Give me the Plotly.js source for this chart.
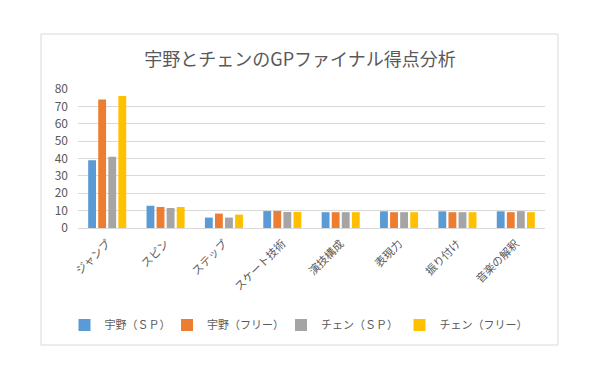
<!DOCTYPE html>
<html><head><meta charset="utf-8">
<script src="https://cdn.plot.ly/plotly-3.0.1.min.js"></script>
<style>html,body{margin:0;padding:0;background:#fff}#chart{width:600px;height:380px}</style>
</head><body><div id="chart"></div>
<script>
const categories = ["ジャンプ","スピン","ステップ","スケート技術","演技構成","表現力","振り付け","音楽の解釈"];
const unoSP   = [39, 12.8, 6.0, 9.75, 9.1, 9.6, 9.6, 9.6];
const unoFree = [74, 12.1, 8.3, 9.8, 9.1, 9.1, 9.1, 9.1];
const chenSP  = [41, 11.5, 6.0, 9.2, 9.1, 9.1, 9.1, 9.7];
const chenFree= [76, 12.1, 7.7, 9.25, 9.1, 9.1, 9.1, 9.1];
const seriesNames = ["宇野（ＳＰ）","宇野（フリー）","チェン（ＳＰ）","チェン（フリー）"];
const colors = ["#5B9BD5","#ED7D31","#A5A5A5","#FFC000"];
const yTicks = [0,10,20,30,40,50,60,70,80];

const font = "'Noto Sans CJK JP', 'Noto Sans', sans-serif";
const legendIds = ['legend','legend2','legend3','legend4'];
const legendCenters = [120, 228, 342, 466];
const data = [unoSP, unoFree, chenSP, chenFree].map((v,i)=>({
  type:'bar', x:categories, y:v, name:seriesNames[i],
  marker:{color:colors[i]}, hoverinfo:'skip', legend:legendIds[i]
}));
const L=78,R=55,T=89,B=152, W=600-L-R, H=380-T-B;
const layout = {
  width:600, height:380,
  margin:{l:L,r:R,t:T,b:B,pad:0},
  paper_bgcolor:'#fff', plot_bgcolor:'#fff',
  font:{family:font, color:'#595959'},
  title:{text:"宇野とチェンのGPファイナル得点分析", x:0.5, xanchor:'center', y:1-60/380, yanchor:'middle',
         font:{size:18, color:'#595959', family:font}},
  barmode:'group', bargap:0.31, bargroupgap:0.22,
  xaxis:{type:'category', tickangle:-45, showgrid:false, showline:true, linecolor:'#D9D9D9', linewidth:1,
         ticks:'', tickfont:{size:11, color:'#595959'}, ticklabelstandoff:4, fixedrange:true},
  yaxis:{range:[0,80], tickvals:yTicks, ticktext:yTicks.map(String), showgrid:true, gridcolor:'#D9D9D9',
         zeroline:false, showline:false, ticks:'', ticklen:0, ticklabelstandoff:9,
         tickfont:{size:12, color:'#595959'}, fixedrange:true},
  shapes:[{type:'rect', xref:'paper', yref:'paper',
           x0:(41-L)/W, x1:(558-L)/W, y0:(T+H-345)/H, y1:(T+H-34)/H,
           line:{color:'#D9D9D9', width:1}, fillcolor:'rgba(0,0,0,0)', layer:'below'}],
  showlegend:true
};
legendIds.forEach((id,i)=>{
  layout[id] = {orientation:'h', xref:'container', yref:'container', x:legendCenters[i]/600, xanchor:'center',
    y:1-325/380, yanchor:'middle', font:{size:11, color:'#595959'}, itemwidth:30, bgcolor:'rgba(0,0,0,0)'};
});
Plotly.newPlot('chart', data, layout, {displayModeBar:false, staticPlot:true});
</script></body></html>
